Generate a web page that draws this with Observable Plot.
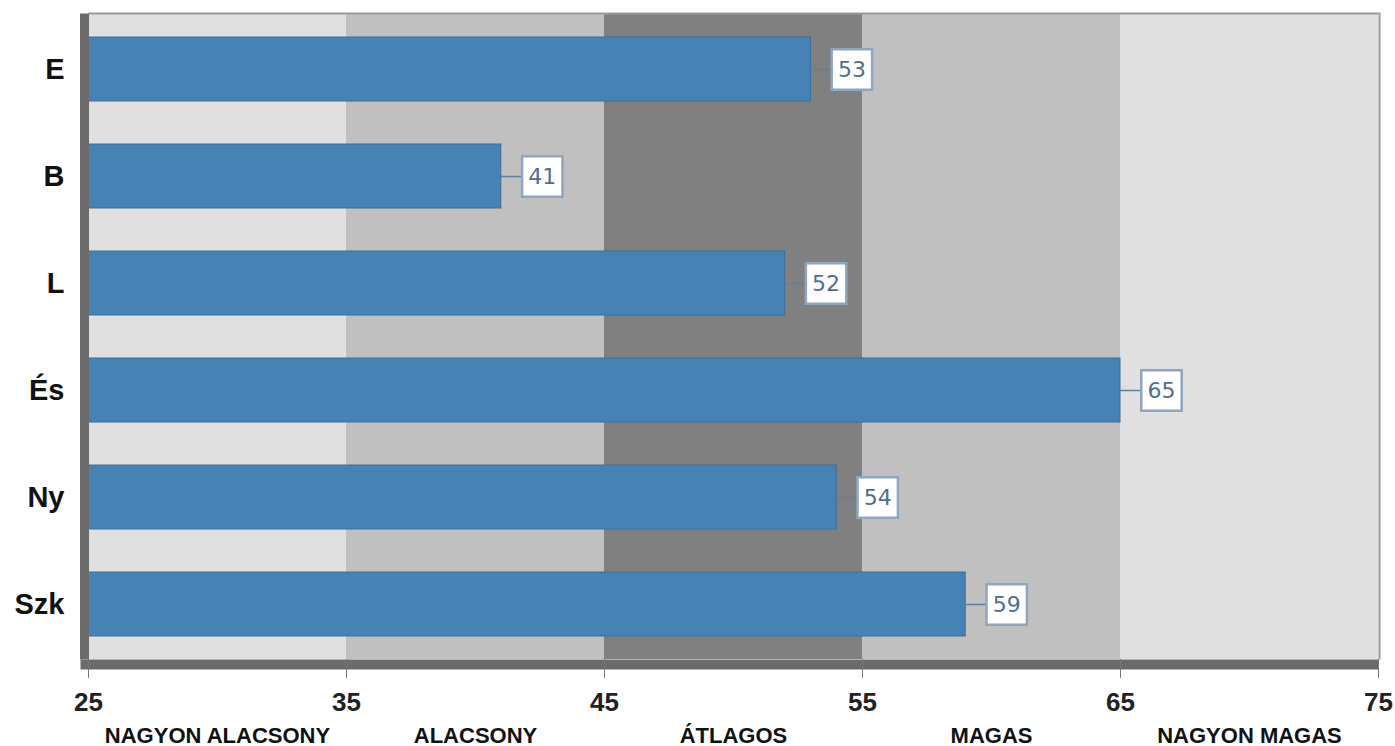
<!DOCTYPE html>
<html><head><meta charset="utf-8">
<script src="https://cdn.jsdelivr.net/npm/d3@7"></script>
<script src="https://cdn.jsdelivr.net/npm/@observablehq/plot@0.6"></script>
<style>body{margin:0;background:#fff;}svg{display:block;}</style>
</head><body><div id="chart"></div>
<script>
const categories = ["E", "B", "L", "És", "Ny", "Szk"];
const values = [53, 41, 52, 65, 54, 59];
const bandStarts = [25, 35, 45, 55, 65];
const bandEnds = [35, 45, 55, 65, 75];
const bandLabels = ["NAGYON ALACSONY", "ALACSONY", "ÁTLAGOS", "MAGAS", "NAGYON MAGAS"];
const bandColors = ["#e0e0e0", "#c0c0c0", "#808080", "#c0c0c0", "#e0e0e0"];
const xTicks = [25, 35, 45, 55, 65, 75];

const data = categories.map((c, i) => ({cat: c, value: values[i]}));
const bands = bandStarts.map((s, i) => ({lo: s, hi: bandEnds[i], label: bandLabels[i], color: bandColors[i]}));
const base = xTicks[0];

const chart = Plot.plot({
  width: 1395, height: 746,
  marginLeft: 88, marginRight: 17, marginTop: 14, marginBottom: 87,
  x: {domain: [xTicks[0], xTicks[xTicks.length - 1]], ticks: xTicks, label: null},
  y: {domain: categories, paddingInner: 0.4, paddingOuter: 0.2, label: null},
  style: {fontFamily: "Liberation Sans, Arial, sans-serif", background: "#fff"},
  marks: [
    Plot.rect(bands, {x1: "lo", x2: "hi", fill: "color"}),
    Plot.frame({anchor: "top", stroke: "#999", strokeWidth: 2, dy: -1, strokeLinecap: "butt"}),
    Plot.frame({anchor: "right", stroke: "#999", strokeWidth: 2, dx: 1, strokeLinecap: "butt", insetTop: -2}),
    Plot.barX(data, {y: "cat", x1: () => base, x2: "value", fill: "#4682b4", stroke: "#3b6e99", strokeWidth: 1}),
    Plot.ruleY(data, {y: "cat", x1: "value", x2: "value", insetRight: -22, stroke: "#5f7f9f", strokeWidth: 1.5}),
    Plot.dot(data, {y: "cat", x: "value", dx: 41, symbol: "square", r: 22.8, fill: "#fff", stroke: "#8ea6be", strokeWidth: 2.5}),
    Plot.text(data, {y: "cat", x: "value", dx: 41, text: d => String(d.value), fill: "#4f6f8f", fontSize: 22, fontFamily: "DejaVu Sans, Verdana, sans-serif"}),
    Plot.frame({anchor: "left", stroke: "#6b6b6b", strokeWidth: 9, dx: -4, strokeLinecap: "butt", insetTop: -1}),
    Plot.frame({anchor: "bottom", stroke: "#6b6b6b", strokeWidth: 10, dy: 5, strokeLinecap: "butt", insetLeft: -8}),
    Plot.axisX({ticks: xTicks, tickSize: 19, tickPadding: 14, stroke: "#777", fontSize: 26, fontWeight: "bold", fill: "#222", tickFormat: d => String(d), label: null}),
    Plot.axisY({tickSize: 0, tickPadding: 24, fontSize: 29, fontWeight: "bold", fill: "#111", label: null}),
    Plot.text(bands, {x: d => (d.lo + d.hi) / 2, text: "label", frameAnchor: "bottom", dy: 83, fontSize: 22, fontWeight: "bold", fill: "#111"})
  ]
});
document.getElementById("chart").appendChild(chart);
</script>
</body></html>
